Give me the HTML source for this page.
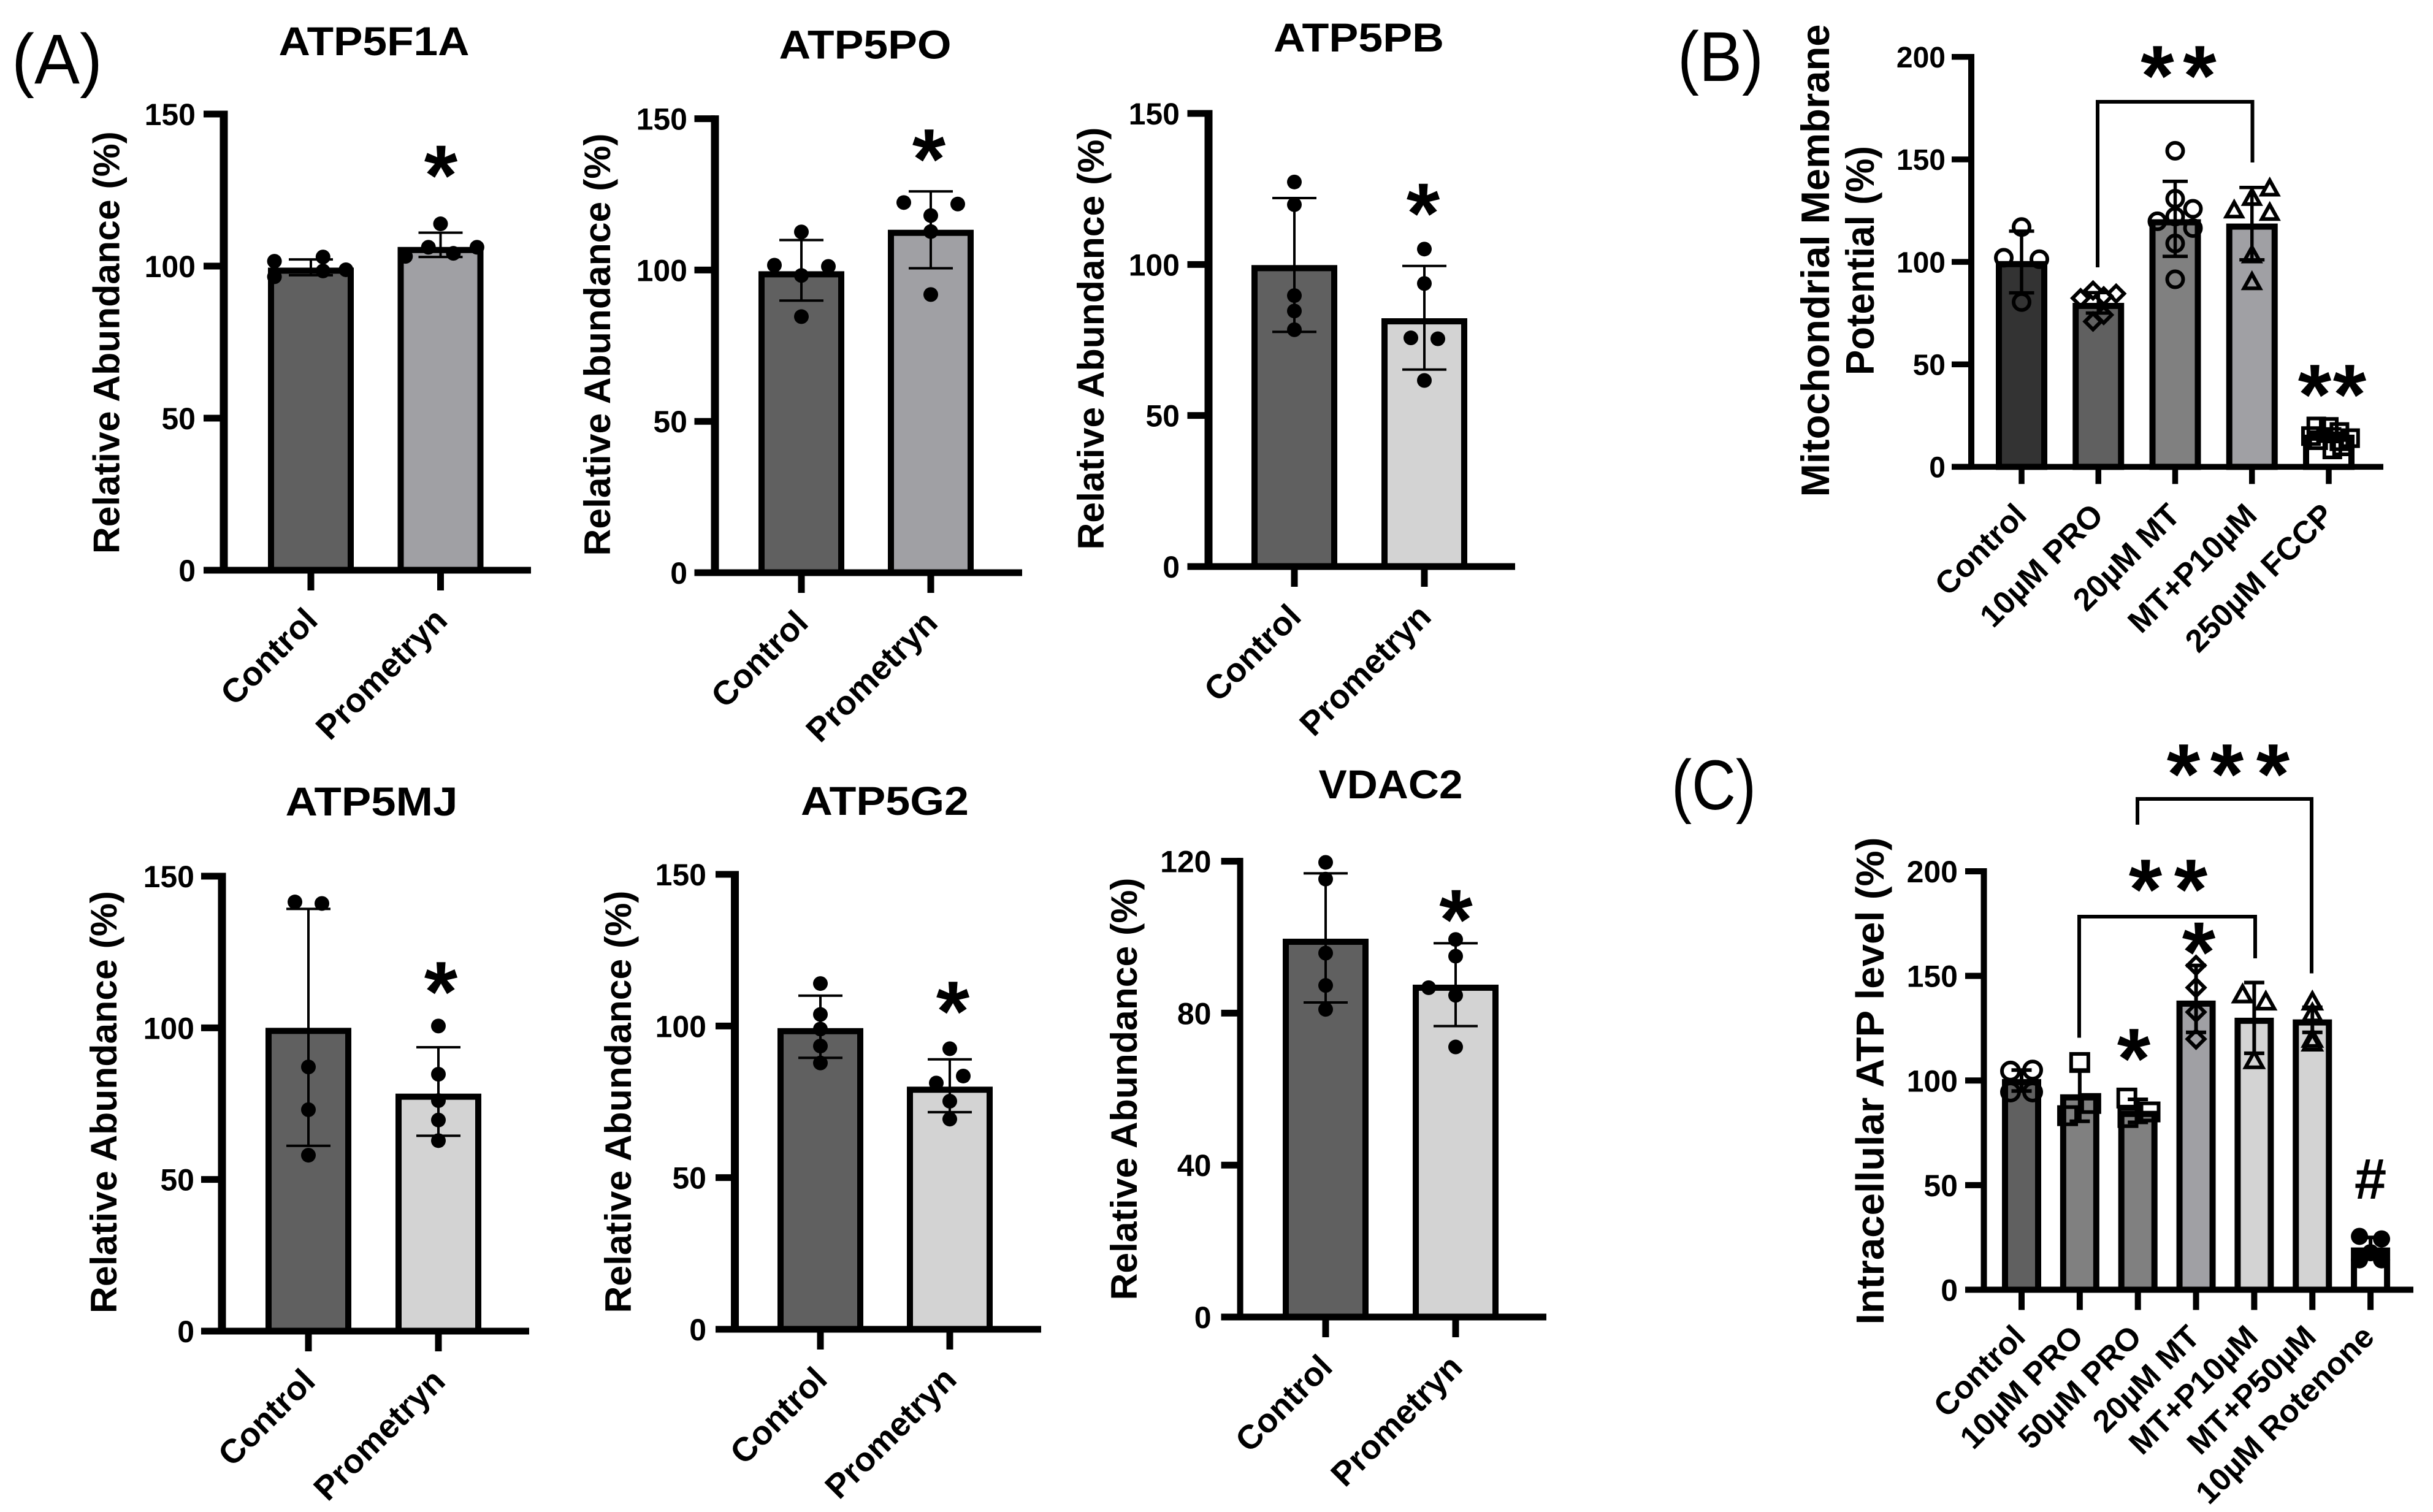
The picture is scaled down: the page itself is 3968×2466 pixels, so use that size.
<!DOCTYPE html>
<html lang="en">
<head>
<meta charset="utf-8">
<title>Mitochondrial protein abundance, membrane potential and ATP level</title>
<style>
html,body{margin:0;padding:0;background:#fff;width:3968px;height:2466px;overflow:hidden}
svg{display:block}
text{font-family:"Liberation Sans",Arial,sans-serif;fill:#000}
</style>
</head>
<body>
<svg id="figure" xmlns="http://www.w3.org/2000/svg" width="3968" height="2466" viewBox="0 0 3968 2466">
<rect x="0" y="0" width="3968" height="2466" fill="#fff"/>
<text x="19" y="136" font-size="115" textLength="148" lengthAdjust="spacingAndGlyphs">(A)</text>
<text x="2736" y="132" font-size="115" textLength="140" lengthAdjust="spacingAndGlyphs">(B)</text>
<text x="2726" y="1320" font-size="115" textLength="138" lengthAdjust="spacingAndGlyphs">(C)</text>
</svg>
<script>
/* ---------- shared axis data ---------- */
const abundanceCategories = ['Control', 'Prometryn'];
const abundanceTicks = [0, 50, 100, 150];
const vdac2Ticks = [0, 40, 80, 120];
const percentTicks = [0, 50, 100, 150, 200];

/* ---------- ATP5F1A ---------- */
const atp5f1aMeans = [99.5, 106.3];
const atp5f1aUpper = [102.2, 111];
const atp5f1aLower = [97, 103];
const atp5f1aPoints = [[101.6, 96.5, 103, 98.4, 98.8], [103.2, 106.2, 113.9, 104.2, 106.2]];
const atp5f1aSwarm = [[-2.7, -2.7, 0.9, 0.9, 2.6], [-2.6, -0.9, 0, 0.95, 2.7]];

/* ---------- ATP5PO ---------- */
const atp5poMeans = [99.6, 113.3];
const atp5poUpper = [109.9, 126];
const atp5poLower = [89.9, 100.6];
const atp5poPoints = [[112.6, 101.6, 101.2, 98.2, 84.6], [122.3, 121.8, 118, 112.7, 91.9]];
const atp5poSwarm = [[0, -2, 2, 0, 0], [-2, 2, 0, 0, 0]];

/* ---------- ATP5PB ---------- */
const atp5pbMeans = [99.8, 82.2];
const atp5pbUpper = [122, 99.5];
const atp5pbLower = [77.7, 65.2];
const atp5pbPoints = [[127.3, 119.8, 89.7, 84.6, 78.4], [105.1, 93.7, 75.7, 75.4, 61.6]];
const atp5pbSwarm = [[0, 0, 0, 0, 0], [0, 0, -1, 1, 0]];

/* ---------- ATP5MJ ---------- */
const atp5mjMeans = [100, 78.3];
const atp5mjUpper = [139.2, 93.6];
const atp5mjLower = [61.1, 64.4];
const atp5mjPoints = [[141.5, 141, 87.1, 73, 58], [100.6, 84.7, 76, 69.6, 62.8]];
const atp5mjSwarm = [[-1, 1, 0, 0, 0], [0, 0, 0, 0, 0]];

/* ---------- ATP5G2 ---------- */
const atp5g2Means = [99.3, 80];
const atp5g2Upper = [110, 89];
const atp5g2Lower = [89.5, 71.6];
const atp5g2Points = [[114, 103.8, 99, 93.4, 87.8], [92.5, 83.5, 81.2, 75.2, 69.3]];
const atp5g2Swarm = [[0, 0, 0, 0, 0], [0, 1, -1, 0, 0]];

/* ---------- VDAC2 ---------- */
const vdac2Means = [99.6, 87.5];
const vdac2Upper = [116.8, 98.4];
const vdac2Lower = [82.8, 76.6];
const vdac2Points = [[119.7, 115.3, 95.8, 87.3, 81], [99.4, 95, 86.7, 84.7, 71.1]];
const vdac2Swarm = [[0, 0, 0, 0, 0], [0, 0, -2, 0, 0]];

/* ---------- (B) Membrane potential ---------- */
const potentialCategories = ['Control', '10µM PRO', '20µM MT', 'MT+P10µM', '250µM FCCP'];
const potentialMeans = [100.4, 80, 120.8, 118.7, 15.7];
const potentialUpper = [115, 85, 139.3, 136.3, 18.5];
const potentialLower = [84.9, 75, 102.7, 101, 12.5];
const potentialPoints = [
  [117, 102, 101.3, 80.4],
  [86, 82.3, 83.2, 84.5, 70.9, 74.1],
  [154.2, 130.8, 125.9, 122.1, 119.8, 116.5, 109, 91.5],
  [135.9, 131.3, 125.2, 124, 103.3, 90.2],
  [19.7, 19.5, 17, 15, 14, 13, 12.5, 8.5, 10]
];
const potentialSwarm = [
  [0, -1, 1, 0],
  [-0.3, -1, 0.3, 1, -0.3, 0.3],
  [0, 0, 1, 0, -1, 1, 0, 0],
  [1, 0, -1, 1, 0, 0],
  [-0.7, 0, 0.6, -1, 1.2, -0.6, 0.6, 0.2, 0.75]
];
const potentialMarkers = ['circle', 'diamond', 'circle', 'triangle', 'square'];
const potentialColors = ['#333333', '#606060', '#808080', '#a0a0a4', '#ffffff'];

/* ---------- (C) Intracellular ATP ---------- */
const atpCategories = ['Control', '10µM PRO', '50µM PRO', '20µM MT', 'MT+P10µM', 'MT+P50µM', '10µM Rotenone'];
const atpMeans = [100.7, 93.4, 85.5, 138.2, 130, 129.2, 20.2];
const atpUpper = [105, 105, 91, 155, 146.8, 135, 25];
const atpLower = [95, 80.5, 80, 123, 113, 123, 15];
const atpPoints = [
  [104.5, 105, 94.5, 94.5],
  [108.6, 83.2, 89],
  [91.6, 85, 82.3],
  [155, 144.4, 132.7, 119.8],
  [141, 137.6, 109.6],
  [137.6, 132, 119.8, 118],
  [25.5, 24.3, 14.3, 14.3, 17.7]
];
const atpSwarm = [
  [-1, 1, -1, 1],
  [0, -1.1, 1],
  [-1, 1.1, -0.9],
  [0, 0, 0, 0],
  [-1.05, 1.05, 0],
  [0, 0, 0, 0],
  [-1, 1, -1, 1, 0]
];
const atpMarkers = ['circle', 'square', 'square', 'diamond', 'triangle', 'triangle', 'disc'];
const atpColors = ['#606060', '#808080', '#808080', '#a0a0a4', '#d3d3d3', '#d3d3d3', '#ffffff'];

const NS = 'http://www.w3.org/2000/svg';
const figure = document.getElementById('figure');

function make(tag, attrs, parent) {
  const el = document.createElementNS(NS, tag);
  for (const k in attrs) el.setAttribute(k, attrs[k]);
  parent.appendChild(el);
  return el;
}
function slug(s) {
  return String(s).toLowerCase().replace(/[^a-z0-9]+/g, '-').replace(/^-|-$/g, '');
}
function markPath(kind, x, y, r) {
  if (kind === 'diamond') return 'M' + x + ' ' + (y - r) + 'L' + (x + r) + ' ' + y + 'L' + x + ' ' + (y + r) + 'L' + (x - r) + ' ' + y + 'Z';
  if (kind === 'triangle') return 'M' + x + ' ' + (y - r) + 'L' + (x + r) + ' ' + (y + r * 0.8) + 'L' + (x - r) + ' ' + (y + r * 0.8) + 'Z';
  return 'M' + (x - r) + ' ' + (y - r) + 'H' + (x + r) + 'V' + (y + r) + 'H' + (x - r) + 'Z';
}

function drawPanel(p) {
  const g = make('g', {}, figure);
  
  

  const yOf = v => p.y0 - v * (p.y0 - p.yTop) / p.yMax;
  const xOf = i => p.xFirst + i * p.xStep;

  /* bars, error bars and points */
  p.categories.forEach((cat, i) => {
    const cx = xOf(i);
    const group = make('g', {}, g);
    
    

    const top = yOf(p.means[i]);
    const bar = make('rect', {
      x: cx - p.barW / 2 + p.barStroke / 2,
      y: top + p.barStroke / 2,
      width: p.barW - p.barStroke,
      height: Math.max(0, p.y0 - top - p.barStroke / 2),
      fill: p.colors[i], stroke: '#000', 'stroke-width': p.barStroke
    }, group);
    
    

    const up = yOf(p.upper[i]);
    const lo = yOf(p.lower[i]);
    const err = make('path', {
      d: 'M' + cx + ' ' + up + 'V' + lo +
         'M' + (cx - p.capW / 2) + ' ' + up + 'H' + (cx + p.capW / 2) +
         'M' + (cx - p.capW / 2) + ' ' + lo + 'H' + (cx + p.capW / 2),
      fill: 'none', stroke: '#000', 'stroke-width': p.errStroke
    }, group);
    
    

    p.points[i].forEach((v, j) => {
      const px = cx + p.swarm[i][j] * p.swarmUnit;
      const py = yOf(v);
      const kind = p.markers[i];
      let m;
      if (kind === 'dot' || kind === 'disc') {
        m = make('circle', { cx: px, cy: py, r: p.markR, fill: '#000' }, group);
      } else if (kind === 'circle') {
        m = make('circle', { cx: px, cy: py, r: p.markR, fill: 'none', stroke: '#000', 'stroke-width': p.markStroke }, group);
      } else {
        m = make('path', { d: markPath(kind, px, py, p.markR), fill: 'none', stroke: '#000', 'stroke-width': p.markStroke }, group);
      }
      
      
    });
  });

  /* axes */
  const yAxis = make('line', { x1: p.xAxis, x2: p.xAxis, y1: yOf(p.yMax) - p.tickW / 2, y2: p.y0, stroke: '#000', 'stroke-width': p.axisW }, g);
  
  

  const xAxis = make('line', { x1: p.tickLeft, x2: p.axisRight, y1: p.y0, y2: p.y0, stroke: '#000', 'stroke-width': p.tickW }, g);
  
  

  p.ticks.forEach(t => {
    const y = yOf(t);
    const tick = make('line', { x1: p.tickLeft, x2: p.xAxis, y1: y, y2: y, stroke: '#000', 'stroke-width': p.tickW }, g);
    
    
    const lab = make('text', { x: p.tickLabelX, y: y + p.tickFont * 0.36, 'font-size': p.tickFont, 'font-weight': 700, 'text-anchor': 'end' }, g);
    lab.textContent = t;
    
    
  });

  p.categories.forEach((cat, i) => {
    const cx = xOf(i);
    const tick = make('line', { x1: cx, x2: cx, y1: p.y0, y2: p.y0 + p.xTickLen, stroke: '#000', 'stroke-width': p.tickW }, g);
    
    
    const lx = cx + p.labelDx;
    const ly = p.y0 + p.labelDy;
    const lab = make('text', { x: lx, y: ly, 'font-size': p.catFont, 'font-weight': 700, 'text-anchor': 'end', transform: 'rotate(-45 ' + lx + ' ' + ly + ')' }, g);
    lab.textContent = cat;
    
    
  });

  /* title */
  if (p.title) {
    const t = make('text', { x: p.titleX, y: p.titleY, 'font-size': 66, 'font-weight': 700, 'text-anchor': 'middle', textLength: p.titleLen, lengthAdjust: 'spacingAndGlyphs' }, g);
    t.textContent = p.title;
    
    
  }

  /* y-axis title lines */
  p.yTitles.forEach(line => {
    const t = make('text', {
      x: line.x, y: line.cy, 'font-size': line.font, 'font-weight': 700, 'text-anchor': 'middle',
      textLength: line.len, lengthAdjust: 'spacingAndGlyphs',
      transform: 'rotate(-90 ' + line.x + ' ' + line.cy + ')'
    }, g);
    t.textContent = line.text;
    
    
  });
  return g;
}

function drawSymbol(sym, cx, cy, font) {
  const t = make('text', { x: cx, y: cy + (sym === '#' ? 0.36 : 0.49) * font, 'font-size': font, 'font-weight': 700, 'text-anchor': 'middle' }, figure);
  t.textContent = sym;
  
  
}

function drawBracket(x1, bottom1, x2, bottom2, top) {
  const b = make('path', { d: 'M' + x1 + ' ' + bottom1 + 'V' + top + 'H' + x2 + 'V' + bottom2, fill: 'none', stroke: '#000', 'stroke-width': 6 }, figure);
  
  
}

/* shared styling of the six protein-abundance panels */
const proteinStyle = {
  categories: abundanceCategories, ticks: abundanceTicks, yMax: 150,
  barW: 140, barStroke: 10, capW: 72, errStroke: 4,
  markers: ['dot', 'dot'], markR: 12, markStroke: 0, swarmUnit: 22,
  axisW: 13, tickW: 11, xTickLen: 33, tickFont: 50, catFont: 55,
  labelDx: 14, labelDy: 85
};

drawPanel(Object.assign({}, proteinStyle, {
  id: 'atp5f1a', title: 'ATP5F1A', titleX: 610, titleY: 90, titleLen: 311,
  xAxis: 365, tickLeft: 332, axisRight: 866, tickLabelX: 319, y0: 930, yTop: 186, xFirst: 507, xStep: 211.5,
  means: atp5f1aMeans, upper: atp5f1aUpper, lower: atp5f1aLower, points: atp5f1aPoints, swarm: atp5f1aSwarm,
  colors: ['#606060', '#a0a0a4'],
  yTitles: [{ text: 'Relative Abundance (%)', x: 194.5, cy: 558.6, len: 689, font: 60 }]
}));
drawPanel(Object.assign({}, proteinStyle, {
  id: 'atp5po', title: 'ATP5PO', titleX: 1411, titleY: 95.6, titleLen: 281,
  xAxis: 1166, tickLeft: 1132.5, axisRight: 1667, tickLabelX: 1121, y0: 934, yTop: 193.6, xFirst: 1307, xStep: 211,
  means: atp5poMeans, upper: atp5poUpper, lower: atp5poLower, points: atp5poPoints, swarm: atp5poSwarm,
  colors: ['#606060', '#a0a0a4'],
  yTitles: [{ text: 'Relative Abundance (%)', x: 995, cy: 562, len: 689, font: 60 }]
}));
drawPanel(Object.assign({}, proteinStyle, {
  id: 'atp5pb', title: 'ATP5PB', titleX: 2216, titleY: 84, titleLen: 278,
  xAxis: 1971, tickLeft: 1936.5, axisRight: 2471, tickLabelX: 1924, y0: 924, yTop: 185, xFirst: 2111, xStep: 212,
  means: atp5pbMeans, upper: atp5pbUpper, lower: atp5pbLower, points: atp5pbPoints, swarm: atp5pbSwarm,
  colors: ['#606060', '#d3d3d3'],
  yTitles: [{ text: 'Relative Abundance (%)', x: 1800, cy: 552, len: 689, font: 60 }]
}));
drawPanel(Object.assign({}, proteinStyle, {
  id: 'atp5mj', title: 'ATP5MJ', titleX: 606, titleY: 1330, titleLen: 281,
  xAxis: 362, tickLeft: 328, axisRight: 863, tickLabelX: 317, y0: 2171, yTop: 1429, xFirst: 503, xStep: 212,
  means: atp5mjMeans, upper: atp5mjUpper, lower: atp5mjLower, points: atp5mjPoints, swarm: atp5mjSwarm,
  colors: ['#606060', '#d3d3d3'],
  yTitles: [{ text: 'Relative Abundance (%)', x: 190, cy: 1797.5, len: 689, font: 60 }]
}));
drawPanel(Object.assign({}, proteinStyle, {
  id: 'atp5g2', title: 'ATP5G2', titleX: 1443, titleY: 1329, titleLen: 274,
  xAxis: 1198.5, tickLeft: 1167, axisRight: 1698, tickLabelX: 1152, y0: 2168, yTop: 1426, xFirst: 1338, xStep: 211,
  means: atp5g2Means, upper: atp5g2Upper, lower: atp5g2Lower, points: atp5g2Points, swarm: atp5g2Swarm,
  colors: ['#606060', '#d3d3d3'],
  yTitles: [{ text: 'Relative Abundance (%)', x: 1029, cy: 1797, len: 689, font: 60 }]
}));
drawPanel(Object.assign({}, proteinStyle, {
  id: 'vdac2', title: 'VDAC2', titleX: 2268, titleY: 1302, titleLen: 235,
  ticks: vdac2Ticks, yMax: 120, axisW: 10,
  xAxis: 2022.6, tickLeft: 1991.6, axisRight: 2522, tickLabelX: 1975.5, y0: 2148, yTop: 1404.6, xFirst: 2162, xStep: 212,
  means: vdac2Means, upper: vdac2Upper, lower: vdac2Lower, points: vdac2Points, swarm: vdac2Swarm,
  colors: ['#606060', '#d3d3d3'],
  yTitles: [{ text: 'Relative Abundance (%)', x: 1854, cy: 1776, len: 689, font: 60 }]
}));

drawPanel({
  id: 'membrane-potential',
  categories: potentialCategories, ticks: percentTicks, yMax: 200,
  xAxis: 3215, tickLeft: 3183, axisRight: 3887, tickLabelX: 3173, y0: 761.4, yTop: 92.8, xFirst: 3297, xStep: 125.25,
  barW: 84, barStroke: 10, capW: 41, errStroke: 5.5,
  means: potentialMeans, upper: potentialUpper, lower: potentialLower, points: potentialPoints, swarm: potentialSwarm,
  markers: potentialMarkers, colors: potentialColors, markR: 13, markStroke: 6, swarmUnit: 29,
  axisW: 10, tickW: 9.5, xTickLen: 28, tickFont: 48, catFont: 52, labelDx: 11, labelDy: 82,
  yTitles: [
    { text: 'Mitochondrial Membrane', x: 2983, cy: 425, len: 771, font: 65 },
    { text: 'Potential (%)', x: 3056, cy: 425, len: 374, font: 65 }
  ]
});

drawPanel({
  id: 'intracellular-atp',
  categories: atpCategories, ticks: percentTicks, yMax: 200,
  xAxis: 3235.5, tickLeft: 3205, axisRight: 3936, tickLabelX: 3193, y0: 2103.5, yTop: 1421, xFirst: 3297, xStep: 94.85,
  barW: 64, barStroke: 10, capW: 33, errStroke: 6,
  means: atpMeans, upper: atpUpper, lower: atpLower, points: atpPoints, swarm: atpSwarm,
  markers: atpMarkers, colors: atpColors, markR: 14, markStroke: 6, swarmUnit: 18,
  axisW: 10, tickW: 10, xTickLen: 33, tickFont: 50, catFont: 52, labelDx: 9, labelDy: 80,
  yTitles: [{ text: 'Intracellular ATP level (%)', x: 3072, cy: 1763, len: 795, font: 64 }]
});

/* significance annotations */
drawSymbol('*', 719, 265.5, 140);
drawSymbol('*', 1515, 239, 140);
drawSymbol('*', 2321, 327.5, 140);
drawSymbol('*', 719, 1597, 140);
drawSymbol('*', 1554, 1629, 140);
drawSymbol('*', 2374.5, 1479.5, 140);

drawSymbol('*', 3518.5, 103, 140);
drawSymbol('*', 3587.5, 103, 140);
drawBracket(3421, 436, 3673.5, 265, 166);
drawSymbol('*', 3775, 623, 140);
drawSymbol('*', 3832, 623, 140);

drawSymbol('*', 3561, 1242, 140);
drawSymbol('*', 3632, 1242, 140);
drawSymbol('*', 3707, 1242, 140);
drawBracket(3486, 1345, 3770, 1587.5, 1303);
drawSymbol('*', 3499, 1430, 140);
drawSymbol('*', 3573, 1430, 140);
drawBracket(3391, 1692.5, 3678, 1563, 1495);
drawSymbol('*', 3480, 1706, 140);
drawSymbol('*', 3586, 1532.5, 140);
drawSymbol('#', 3866, 1921, 94);
</script>
</body>
</html>
